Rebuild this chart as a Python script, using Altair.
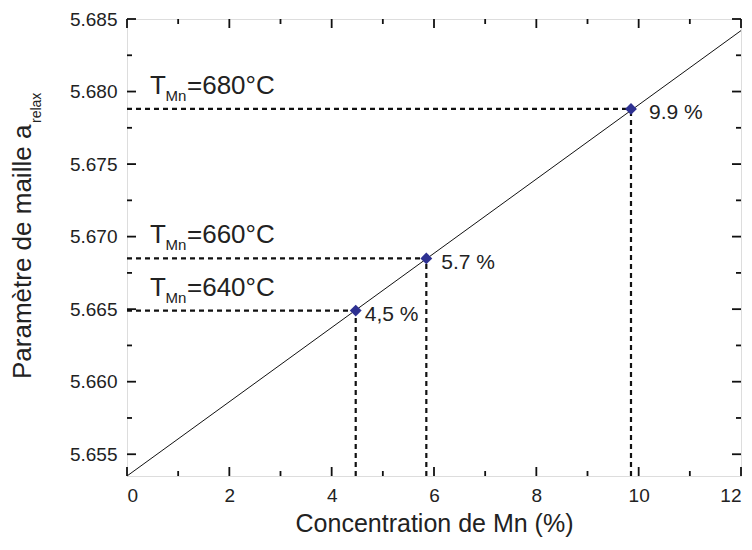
import altair as alt
import pandas as pd

# ---- data ----
conc = [4.47, 5.85, 9.85]
param = [5.6649, 5.6685, 5.6788]
pct_labels = ["4,5 %", "5.7 %", "9.9 %"]
temp_labels = ["=640°C", "=660°C", "=680°C"]

fit_x = [0, 12]
fit_y = [5.6535, 5.6842]

x_major = [0, 2, 4, 6, 8, 10, 12]
x_minor = [1, 3, 5, 7, 9, 11]
y_major = [5.655, 5.660, 5.665, 5.670, 5.675, 5.680, 5.685]
y_minor = [5.6575, 5.6625, 5.6675, 5.6725, 5.6775, 5.6825]

X_DOM = [0, 12]
Y_DOM = [5.6535, 5.685]
W, H = 614, 457
FONT = "Liberation Sans"
TXT = "#222"

xs = alt.Scale(domain=X_DOM, nice=False, zero=False)
ys = alt.Scale(domain=Y_DOM, nice=False, zero=False)

pts = pd.DataFrame({"x": conc, "y": param, "pct": pct_labels, "temp": temp_labels,
                    "x0": [X_DOM[0]] * 3, "y0": [Y_DOM[0]] * 3})
fit = pd.DataFrame({"x": fit_x, "y": fit_y})

# inward ticks on all four sides: one table of segments (tick lengths in px -> data units)
px_x = (X_DOM[1] - X_DOM[0]) / W
px_y = (Y_DOM[1] - Y_DOM[0]) / H
rows = []
for vals, ln in ((x_major, 9), (x_minor, 5)):
    for v in vals:
        rows.append({"tx": v, "tx2": v, "ty": Y_DOM[0], "ty2": Y_DOM[0] + ln * px_y})
        rows.append({"tx": v, "tx2": v, "ty": Y_DOM[1] - ln * px_y, "ty2": Y_DOM[1]})
for vals, ln in ((y_major, 9), (y_minor, 5)):
    for v in vals:
        rows.append({"tx": X_DOM[0], "tx2": X_DOM[0] + ln * px_x, "ty": v, "ty2": v})
        rows.append({"tx": X_DOM[1] - ln * px_x, "tx2": X_DOM[1], "ty": v, "ty2": v})
tick_df = pd.DataFrame(rows)

base_x = alt.X("x:Q", scale=xs,
               axis=alt.Axis(values=x_major, ticks=False, domain=False, grid=False,
                             labelFont=FONT, labelFontSize=19, labelColor=TXT,
                             labelPadding=10, title="Concentration de Mn (%)",
                             titleFont=FONT, titleFontSize=25, titleFontWeight="normal",
                             titleColor=TXT, titlePadding=6))
base_y = alt.Y("y:Q", scale=ys,
               axis=alt.Axis(values=y_major, format=".3f", ticks=False, domain=False,
                             grid=False, labelFont=FONT, labelFontSize=19,
                             labelColor=TXT, labelPadding=10, title=None))

line = alt.Chart(fit).mark_line(color="#111", strokeWidth=1).encode(x=base_x, y=base_y)

ticks = alt.Chart(tick_df).mark_rule(color="#111", strokeWidth=1.8).encode(
    x=alt.X("tx:Q", scale=xs), x2="tx2:Q", y=alt.Y("ty:Q", scale=ys), y2="ty2:Q")

dash = dict(color="#111", strokeWidth=2.2, strokeDash=[5, 4])
hdash = alt.Chart(pts).mark_rule(**dash).encode(
    x=alt.X("x0:Q", scale=xs), x2="x:Q", y=alt.Y("y:Q", scale=ys))
vdash = alt.Chart(pts).mark_rule(**dash).encode(
    x=alt.X("x:Q", scale=xs), y=alt.Y("y0:Q", scale=ys), y2="y:Q")

marks = alt.Chart(pts).mark_point(shape="diamond", filled=True, size=140,
                                  color="#2e3192", opacity=1).encode(
    x=alt.X("x:Q", scale=xs), y=alt.Y("y:Q", scale=ys))

pct_off = {"4,5 %": (9, 4), "5.7 %": (15, 5), "9.9 %": (18, 4)}
pct_layers = []
for lab, (ddx, ddy) in pct_off.items():
    pct_layers.append(
        alt.Chart(pts).transform_filter(alt.datum.pct == lab).mark_text(
            font=FONT, fontSize=21, color=TXT, align="left", baseline="middle",
            dx=ddx, dy=ddy).encode(
            x=alt.X("x:Q", scale=xs), y=alt.Y("y:Q", scale=ys), text="pct:N"))

lab_px = 23
t_T = alt.Chart(pts).mark_text(font=FONT, fontSize=26, color=TXT, align="left",
                               baseline="alphabetic", dy=-15).encode(
    x=alt.value(lab_px), y=alt.Y("y:Q", scale=ys), text=alt.value("T"))
t_Mn = alt.Chart(pts).mark_text(font=FONT, fontSize=15, color=TXT, align="left",
                                baseline="alphabetic", dx=15.5, dy=-8).encode(
    x=alt.value(lab_px), y=alt.Y("y:Q", scale=ys), text=alt.value("Mn"))
t_eq = alt.Chart(pts).mark_text(font=FONT, fontSize=26, color=TXT, align="left",
                                baseline="alphabetic", dx=37, dy=-15).encode(
    x=alt.value(lab_px), y=alt.Y("y:Q", scale=ys), text="temp:N")

ytitle_df = pd.DataFrame({"a": [0]})
ytitle = alt.Chart(ytitle_df).mark_text(font=FONT, fontSize=26, color=TXT, angle=270,
                                        align="left", baseline="alphabetic").encode(
    x=alt.value(-96), y=alt.value(360), text=alt.value("Paramètre de maille a"))
ysub = alt.Chart(ytitle_df).mark_text(font=FONT, fontSize=14, color=TXT, angle=270,
                                      align="left", baseline="alphabetic").encode(
    x=alt.value(-86), y=alt.value(104), text=alt.value("relax"))

chart = alt.layer(line, ticks, hdash, vdash, marks, *pct_layers, t_T, t_Mn, t_eq,
                  ytitle, ysub).properties(
    width=W, height=H,
    autosize=alt.AutoSizeParams(type="none"),
    padding={"left": 119, "top": 11, "right": 3, "bottom": 66},
).configure_view(stroke="#000", strokeWidth=1.8).configure(background="white")

chart.save("out.html", embed_options={"renderer": "svg", "actions": False})
